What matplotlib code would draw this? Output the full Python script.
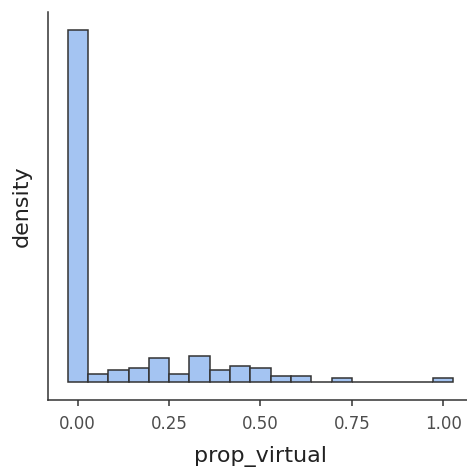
import matplotlib
matplotlib.use("Agg")
import matplotlib.pyplot as plt
import numpy as np

# histogram bins (19 bins of width 1/18 centred on k/18)
bin_centers = [k / 18 for k in range(19)]
counts = [172, 4, 6, 7, 12, 4, 13, 6, 8, 7, 3, 3, 0, 2, 0, 0, 0, 0, 2]
x_ticks = [0.0, 0.25, 0.5, 0.75, 1.0]
x_tick_labels = ["0.00", "0.25", "0.50", "0.75", "1.00"]

W, H = 467, 467
fig = plt.figure(figsize=(W / 100, H / 100), dpi=100)
left, right, top, bottom = 48.3, 472.7, 12, 400
ax = fig.add_axes([left / W, (H - bottom) / H, (right - left) / W, (bottom - top) / H])

width = 1 / 18
total = sum(counts)
dens = [c / (total * width) for c in counts]
ax.bar(bin_centers, dens, width=width, color="#a4c4f2", edgecolor="#333333",
       linewidth=1.1, align="center")

lo, hi = -width / 2, 1 + width / 2
span = hi - lo
ax.set_xlim(lo - 0.05 * span, hi + 0.05 * span)
ymax = max(dens)
ax.set_ylim(-0.05 * ymax, ymax * 1.05)

for s in ["top", "right"]:
    ax.spines[s].set_visible(False)
for s in ["left", "bottom"]:
    ax.spines[s].set_color("#333333")
    ax.spines[s].set_linewidth(1.1)

ax.set_xticks(x_ticks)
ax.set_xticklabels(x_tick_labels)
ax.tick_params(axis="x", length=4, width=1.1, color="#333333", labelsize=12,
               labelcolor="#4d4d4d", pad=7)
ax.set_yticks([])
ax.set_xlabel("prop_virtual", fontsize=16, color="#222222", labelpad=9)
ax.set_ylabel("density", fontsize=16, color="#222222", labelpad=12)

fig.savefig("out.png", dpi=100)
